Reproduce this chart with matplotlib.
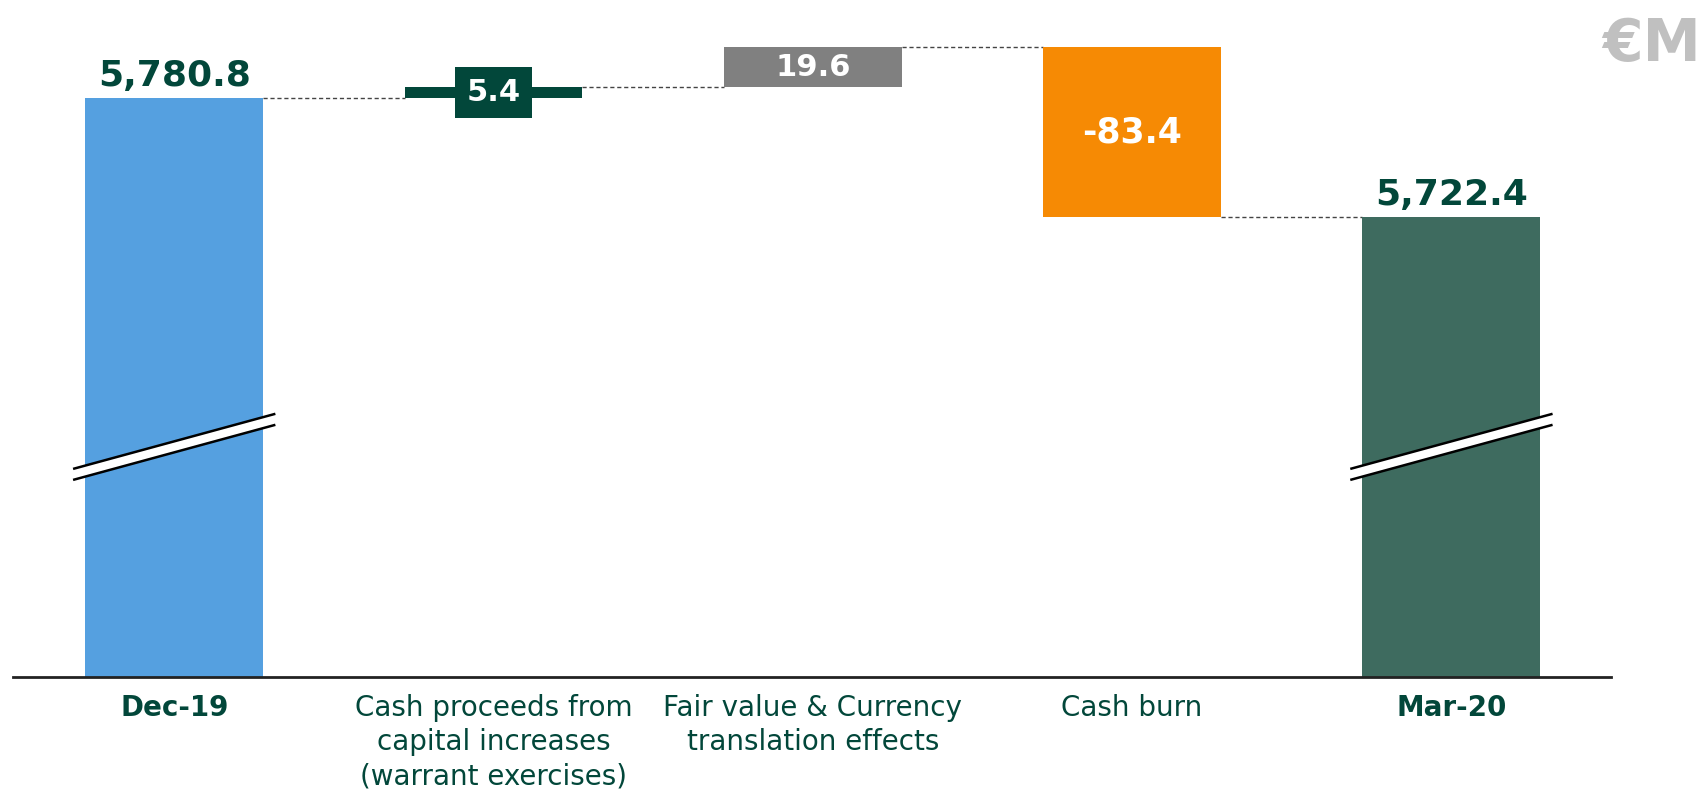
import matplotlib
matplotlib.use('Agg')
import matplotlib.pyplot as plt

categories = ['Dec-19', 'Cash proceeds from\ncapital increases\n(warrant exercises)',
              'Fair value & Currency\ntranslation effects', 'Cash burn', 'Mar-20']
start_value = 5780.8
changes = [5.4, 19.6, -83.4]
end_value = 5722.4
value_labels = ['5,780.8', '5.4', '19.6', '-83.4', '5,722.4']
bar_colors = ['#55a0e0', '#02473a', '#808080', '#f68a04', '#3e6b5f']

# axis is broken, so totals start from this floor
axis_floor = 5497
axis_top = 5829

dark = '#02473a'

fig = plt.figure(figsize=(17.07, 7.94), dpi=100)
ax = fig.add_axes([0.0076, 0.1474, 0.9362, 0.8526])

x = list(range(len(categories)))
w = 0.557

# totals
bottoms = [axis_floor]
heights = [start_value - axis_floor]
level = start_value
for c in changes:
    bottoms.append(min(level, level + c))
    heights.append(abs(c))
    level += c
bottoms.append(axis_floor)
heights.append(end_value - axis_floor)

ax.bar(x, heights, bottom=bottoms, width=w, color=bar_colors, zorder=2)

# connectors
levels = [start_value]
for c in changes:
    levels.append(levels[-1] + c)
for i, lv in enumerate(levels):
    ax.plot([x[i] + w / 2, x[i + 1] - w / 2], [lv, lv], color='#444444', lw=1.0,
            dashes=(3, 2), zorder=1)

# value labels
ax.text(x[0], start_value + 2.5, value_labels[0], ha='center', va='bottom',
        fontsize=26, fontweight='bold', color=dark)
ax.text(x[4], end_value + 2.5, value_labels[4], ha='center', va='bottom',
        fontsize=26, fontweight='bold', color=dark)
ax.text(x[1], bottoms[1] + heights[1] / 2, value_labels[1], ha='center', va='center',
        fontsize=22, fontweight='bold', color='white', zorder=4,
        bbox=dict(boxstyle='square,pad=0.36', fc=dark, ec='none'))
ax.text(x[2], bottoms[2] + heights[2] / 2, value_labels[2], ha='center', va='center',
        fontsize=22, fontweight='bold', color='white', zorder=4)
ax.text(x[3], bottoms[3] + heights[3] / 2, value_labels[3], ha='center', va='center',
        fontsize=25, fontweight='bold', color='white', zorder=4)

# break marks on the total bars
brk_lo, brk_hi, gap = 5599.2, 5625.9, 5.4
for xi in (x[0], x[4]):
    xs = [xi - 0.313, xi + 0.313]
    ax.fill([xs[0], xs[1], xs[1], xs[0]],
            [brk_lo, brk_hi, brk_hi - gap, brk_lo - gap],
            color='white', zorder=3, lw=0)
    ax.plot(xs, [brk_lo, brk_hi], color='black', lw=1.8, zorder=3)
    ax.plot(xs, [brk_lo - gap, brk_hi - gap], color='black', lw=1.8, zorder=3)

ax.set_xlim(-0.505, 4.5)
ax.set_ylim(axis_floor, axis_top)
ax.set_xticks(x)
ax.set_xticklabels(categories, fontsize=20, color=dark, linespacing=1.3)
for i, t in enumerate(ax.get_xticklabels()):
    if i in (0, 4):
        t.set_fontweight('bold')
ax.tick_params(axis='x', length=0, pad=12)
ax.set_yticks([])
for s in ['top', 'right', 'left']:
    ax.spines[s].set_visible(False)
ax.spines['bottom'].set_linewidth(2)
ax.spines['bottom'].set_color('#222222')

fig.text(0.9965, 0.98, '€M', ha='right', va='top', fontsize=42,
         fontweight='bold', color='#c0c0c0')

plt.savefig('out.png', dpi=100)
